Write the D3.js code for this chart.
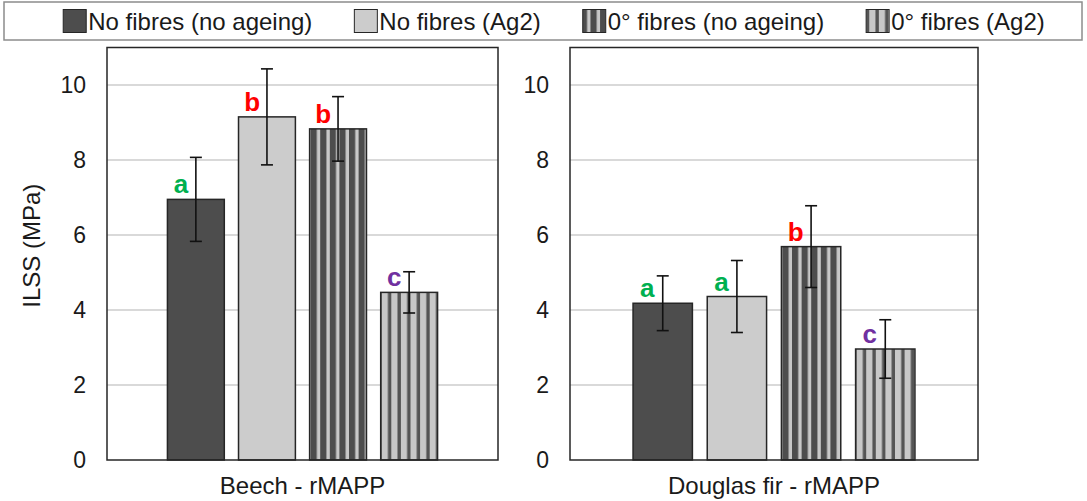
<!DOCTYPE html>
<html>
<head>
<meta charset="utf-8">
<script src="https://cdn.jsdelivr.net/npm/d3@7/dist/d3.min.js"></script>
<style>
  html, body { margin: 0; padding: 0; background: #fff; }
  svg { display: block; font-family: "Liberation Sans", Arial, sans-serif; }
</style>
</head>
<body>
<svg id="chart" width="1087" height="501"></svg>
<script>
// ---- data ----
const seriesNames = ["No fibres (no ageing)", "No fibres (Ag2)", "0° fibres (no ageing)", "0° fibres (Ag2)"];
const panelNames = ["Beech - rMAPP", "Douglas fir - rMAPP"];
const beechMeans = [6.95, 9.15, 8.83, 4.47];
const beechErrors = [1.12, 1.28, 0.86, 0.55];
const beechLetters = ["a", "b", "b", "c"];
const douglasMeans = [4.18, 4.36, 5.69, 2.96];
const douglasErrors = [0.73, 0.96, 1.09, 0.78];
const douglasLetters = ["a", "a", "b", "c"];
const yTicks = [0, 2, 4, 6, 8, 10];
const letterColors = { a: "#00b050", b: "#ff0000", c: "#7030a0" };

// ---- styles ----
const DARK = "#4d4d4d", LIGHT = "#cccccc", OUTLINE = "#262626", TEXT = "#1a1a1a";
const TICK_FONT = 23, LABEL_FONT = 24;

const svg = d3.select("#chart");
const defs = svg.append("defs");

// vertical stripe pattern: background colour + narrow stripes
function stripePattern(id, bg, fg, x0) {
  const p = defs.append("pattern")
    .attr("id", id).attr("patternUnits", "userSpaceOnUse")
    .attr("x", x0).attr("y", 0).attr("width", 9.6).attr("height", 10);
  p.append("rect").attr("width", 9.6).attr("height", 10).attr("fill", bg);
  p.append("rect").attr("x", 6.2).attr("width", 3.4).attr("height", 10).attr("fill", fg);
  return `url(#${id})`;
}

function fillFor(i, key, x0) {
  if (i === 0) return DARK;
  if (i === 1) return LIGHT;
  if (i === 2) return stripePattern(`st-${key}`, DARK, "#c8c8c8", x0);
  return stripePattern(`st-${key}`, "#c8c8c8", "#555555", x0);
}

const y = d3.scaleLinear().domain([0, 11]).range([460, 47.5]);

const panels = [
  { name: panelNames[0], means: beechMeans, errors: beechErrors, letters: beechLetters, x0: 107, x1: 498 },
  { name: panelNames[1], means: douglasMeans, errors: douglasErrors, letters: douglasLetters, x0: 570, x1: 978 }
];

panels.forEach((pn, pi) => {
  const x = d3.scaleBand().domain(seriesNames).range([pn.x0, pn.x1])
    .paddingInner(0.2).paddingOuter(0.85);
  const g = svg.append("g");

  // gridlines
  g.selectAll("line.grid").data(yTicks.filter(t => t > 0)).join("line")
    .attr("x1", pn.x0).attr("x2", pn.x1)
    .attr("y1", d => y(d)).attr("y2", d => y(d))
    .attr("stroke", "#d9d9d9").attr("stroke-width", 1.8);

  // y axis labels
  const axis = d3.axisLeft(y).tickValues(yTicks).tickSize(0).tickPadding(21);
  const ag = g.append("g").attr("transform", `translate(${pn.x0},0)`).call(axis);
  ag.select(".domain").remove();
  ag.selectAll("text").attr("font-size", TICK_FONT).attr("fill", TEXT)
    .attr("font-family", "Liberation Sans, Arial, sans-serif");

  const rows = seriesNames.map((s, i) => ({ s, i, v: pn.means[i], e: pn.errors[i], l: pn.letters[i] }));

  // bars
  g.selectAll("rect.bar").data(rows).join("rect")
    .attr("x", d => x(d.s)).attr("width", x.bandwidth())
    .attr("y", d => y(d.v)).attr("height", d => y(0) - y(d.v))
    .attr("fill", d => fillFor(d.i, `${pi}-${d.i}`, x(d.s) + 1))
    .attr("stroke", OUTLINE).attr("stroke-width", 1.5);

  // error bars
  const cx = d => x(d.s) + x.bandwidth() / 2;
  const eg = g.selectAll("g.err").data(rows).join("g")
    .attr("stroke", "#111").attr("stroke-width", 1.6);
  eg.append("line").attr("x1", cx).attr("x2", cx)
    .attr("y1", d => y(d.v + d.e)).attr("y2", d => y(d.v - d.e));
  eg.append("line").attr("x1", d => cx(d) - 6).attr("x2", d => cx(d) + 6)
    .attr("y1", d => y(d.v + d.e)).attr("y2", d => y(d.v + d.e));
  eg.append("line").attr("x1", d => cx(d) - 6).attr("x2", d => cx(d) + 6)
    .attr("y1", d => y(d.v - d.e)).attr("y2", d => y(d.v - d.e));

  // significance letters
  g.selectAll("text.letter").data(rows).join("text")
    .attr("x", d => cx(d) - x.bandwidth() * 0.26)
    .attr("y", d => y(d.v) - 6)
    .attr("text-anchor", "middle")
    .attr("font-size", 26).attr("font-weight", "bold")
    .attr("fill", d => letterColors[d.l])
    .text(d => d.l);

  // plot frame
  g.append("rect").attr("x", pn.x0).attr("y", y(11))
    .attr("width", pn.x1 - pn.x0).attr("height", y(0) - y(11))
    .attr("fill", "none").attr("stroke", OUTLINE).attr("stroke-width", 1.5);

  // category label
  g.append("text").attr("x", (pn.x0 + pn.x1) / 2).attr("y", 494)
    .attr("text-anchor", "middle").attr("font-size", LABEL_FONT).attr("fill", TEXT)
    .text(pn.name);
});

// y axis title
svg.append("text")
  .attr("transform", `translate(40,${(y(0) + y(11)) / 2 - 8}) rotate(-90)`)
  .attr("text-anchor", "middle").attr("font-size", LABEL_FONT).attr("fill", TEXT)
  .text("ILSS (MPa)");

// ---- legend ----
svg.append("rect").attr("x", 4).attr("y", 2).attr("width", 1078).attr("height", 38)
  .attr("fill", "#fff").attr("stroke", "#8c8c8c").attr("stroke-width", 1.5);

const lg = svg.append("g");
const items = lg.selectAll("g.item").data(seriesNames).join("g");
items.append("rect").attr("width", 23).attr("height", 23).attr("y", 9.5)
  .attr("stroke", OUTLINE).attr("stroke-width", 1);
items.append("text").attr("x", 25).attr("y", 30)
  .attr("font-size", LABEL_FONT).attr("fill", TEXT).text(d => d);

const gap = 42;
let cursor = 0;
const offsets = [];
items.each(function (d, i) {
  offsets.push(cursor);
  const w = this.querySelector("text").getComputedTextLength();
  cursor += 25 + w + gap;
});
const total = cursor - gap;
const start = 554 - total / 2;
items.attr("transform", (d, i) => `translate(${start + offsets[i]},0)`);
items.select("rect").attr("fill", (d, i) => fillFor(i, `lg-${i}`, start + offsets[i] + 1));
</script>
</body>
</html>
